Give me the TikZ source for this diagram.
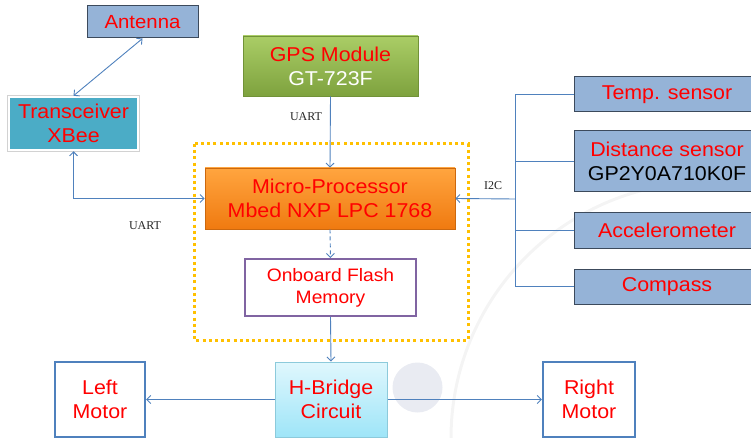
\documentclass[tikz,border=0pt]{standalone}
\usepackage{fontspec}
\setmainfont{Liberation Sans}[FakeStretch=1.07]
\newfontfamily\busfont{Liberation Serif}
\usetikzlibrary{arrows.meta}
\definecolor{linkblue}{HTML}{4F81BD}
\definecolor{boxblue}{HTML}{95B3D7}
\definecolor{boxedge}{HTML}{3C4A5C}
\definecolor{xbeeteal}{HTML}{4BACC6}
\definecolor{gpstop}{HTML}{AACD66}
\definecolor{gpsbot}{HTML}{7EA23E}
\definecolor{mcutop}{HTML}{FFA53F}
\definecolor{mcubot}{HTML}{F07A10}
\definecolor{flashedge}{HTML}{8064A2}
\definecolor{hbtop}{HTML}{E0F7FD}
\definecolor{hbbot}{HTML}{9EE5F8}
\definecolor{hbedge}{HTML}{8CCADB}
\definecolor{dotorange}{HTML}{FFC000}
\definecolor{txtred}{HTML}{FF0000}
\definecolor{swoosh}{HTML}{E9EBF2}

\begin{document}
\begin{tikzpicture}[
  x=1pt, y=-1pt,
  font=\fontsize{20}{24}\selectfont,
  blk/.style     = {rectangle, inner sep=0pt, align=center, text=txtred},
  sensor/.style  = {blk, draw=boxedge, line width=1pt, fill=boxblue,
                    minimum width=186pt},
  motor/.style   = {blk, draw=linkblue, line width=2.4pt, fill=white,
                    minimum height=75pt},
  wire/.style    = {draw=linkblue, line width=0.9pt},
  arr/.style     = {wire, -{Straight Barb[length=4pt,width=8pt]}},
  arrs/.style    = {wire, {Straight Barb[length=4pt,width=8pt]}-{Straight Barb[length=4pt,width=8pt]}},
  buslabel/.style= {font=\busfont\fontsize{12}{14}\selectfont, text=black!85},
]
\useasboundingbox (0,0) rectangle (751,438);
\clip (0,0) rectangle (751,438);

% faint background decoration
\fill[swoosh] (417.5,387.5) circle [radius=25];
\draw[gray!9, line width=3pt] (451,438) arc[start angle=180, end angle=280, radius=256];

% dotted controller area
\draw[dotorange, line width=3pt, dash pattern=on 3pt off 3.2pt]
  (194,144) rectangle (468,340);

\node[blk, draw=boxedge, line width=1pt, fill=boxblue, minimum width=111pt,
      minimum height=32pt, font=\fontsize{19}{22}\selectfont]
  (antenna) at (142.5,22) {Antenna};
\node[blk, fill=xbeeteal, draw=white, line width=2.5pt,
      preaction={draw=gray!35, line width=4pt},
      minimum width=129pt, minimum height=53pt]
  (xbee) at (73.5,123.5) {Transceiver\\XBee};
\node[blk, draw=gpsbot!90!black, line width=0.6pt, top color=gpstop, bottom color=gpsbot,
      minimum width=175pt, minimum height=60pt]
  (gps) at (330.5,66) {GPS Module\\\textcolor{white}{GT-723F}};
\node[blk, draw=mcubot!85!black, line width=0.6pt, top color=mcutop, bottom color=mcubot,
      minimum width=250pt, minimum height=61pt]
  (mcu) at (330,198.5) {Micro-Processor\\Mbed NXP LPC 1768};
\node[blk, draw=flashedge, line width=2pt, fill=white, minimum width=171pt,
      minimum height=57pt, font=\fontsize{18}{22}\selectfont]
  (flash) at (330.5,287.5) {Onboard Flash\\Memory};
\node[blk, draw=hbedge, line width=1pt, top color=hbtop, bottom color=hbbot,
      minimum width=112pt, minimum height=75pt]
  (hbridge) at (331,399.5) {H-Bridge\\Circuit};
\node[motor, minimum width=90pt] (lmotor) at (100,399.5) {Left\\Motor};
\node[motor, minimum width=92pt] (rmotor) at (589,399.5) {Right\\Motor};

\node[sensor, minimum height=35pt] (temp) at (667,94.5) {Temp. sensor};
\node[sensor, minimum height=61pt] (dist) at (667,161.5)
  {Distance sensor\\\textcolor{black}{GP2Y0A710K0F}};
\node[sensor, minimum height=35pt] (accel) at (667,230.5) {Accelerometer};
\node[sensor, minimum height=35pt] (compass) at (667,286.5) {Compass};

\coordinate (bus) at (515,199);

\draw[arrs] (antenna.south) -- (xbee.north);
\draw[arrs] (xbee.south) |- (mcu.west);
\draw[arr] (gps.south) -- (mcu.north);
\draw[arr, dash pattern=on 4pt off 3pt] (mcu.south) -- (flash.north);
\draw[arr] (flash.south) -- (hbridge.north);
\draw[arr] (hbridge.west) -- (lmotor.east);
\draw[arr] (hbridge.east) -- (rmotor.west);

% I2C bus
\draw[wire] (temp.west) -- (temp.west -| bus) -- (compass.west -| bus) -- (compass.west);
\draw[wire] (dist.west) -- (dist.west -| bus);
\draw[wire] (accel.west) -- (accel.west -| bus);
\draw[arr] (bus) -- (mcu.east);

\node[buslabel] (uartgps) at (306,117) {UART};
\node[buslabel] (uartxbee) at (145,226) {UART};
\node[buslabel] (i2c) at (493,186) {I2C};
\end{tikzpicture}
\end{document}
